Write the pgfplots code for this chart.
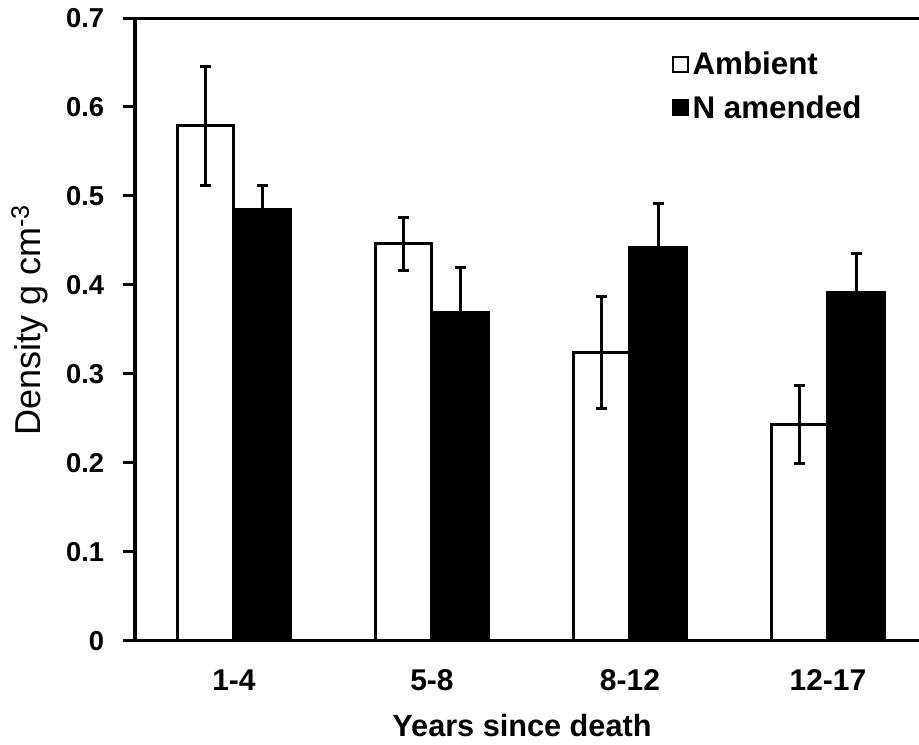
\documentclass[border=0pt]{standalone}
\usepackage{fontspec}
\setmainfont{Liberation Sans}
\usepackage{pgfplots}
\pgfplotsset{compat=1.18}
\usepackage{pgfplotstable}

\pgfplotstableread{
x y e
0 0.579 0.067
1 0.446 0.030
2 0.324 0.063
3 0.243 0.044
}\ambient
\pgfplotstableread{
x y e
0 0.485 0.027
1 0.369 0.050
2 0.442 0.049
3 0.391 0.044
}\namended

\begin{document}
\begin{tikzpicture}
\begin{axis}[
  scale only axis,
  width=588pt, height=467pt,
  xmin=-0.5, xmax=3.46,
  ymin=0, ymax=0.7,
  clip=false,
  axis x line*=bottom,
  axis y line*=left,
  axis line style={-, line width=2.25pt, line cap=rect},
  xtick={0,1,2,3},
  xticklabels={1-4,5-8,8-12,12-17},
  xtick style={draw=none},
  ytick={0,0.1,0.2,0.3,0.4,0.5,0.6,0.7},
  yticklabels={0,0.1,0.2,0.3,0.4,0.5,0.6,0.7},
  ytick style={line width=2.25pt, black},
  tick align=outside,
  major tick length=9pt,
  /pgf/number format/assume math mode=true,
  xticklabel style={font=\fontsize{22.5}{26}\selectfont\bfseries, anchor=base, yshift=-28pt, inner sep=0pt},
  yticklabel style={font=\fontsize{20.5}{24}\selectfont\bfseries, anchor=east, inner sep=0pt, xshift=-14pt},
  xlabel={\bfseries Years since death},
  xlabel style={font=\fontsize{23}{27}\selectfont, at={(axis description cs:0.4936,-0.1546)}, anchor=base, inner sep=0pt},
  ylabel={Density g cm\textsuperscript{-3}},
  ylabel style={font=\fontsize{27}{31}\selectfont, at={(axis description cs:-0.12,0.515)}, anchor=base, inner sep=0pt},
  ybar, bar width=0.286,
  legend style={at={(axis description cs:0.685,0.951)}, anchor=north west, draw=none, fill=none, inner sep=0pt,
    font=\fontsize{23.5}{27}\selectfont\bfseries, row sep=9pt,
    nodes={inner sep=2.5pt}},
  legend cell align=left,
  legend image code/.code={\draw[#1, line width=1.5pt] (0pt,-5.6pt) rectangle (11.2pt,5.6pt);},
]
\addplot[bar shift=-0.143, fill=white, draw=black, line width=2.25pt,
  error bars/.cd, y dir=both, y explicit,
  error bar style={line width=2.25pt, black},
  error mark options={rotate=90, mark size=4.1pt, line width=2.25pt, black}]
  table[x=x, y=y, y error=e] {\ambient};
\addlegendentry{Ambient}
\addplot[bar shift=0.143, fill=black, draw=black, line width=2.25pt,
  error bars/.cd, y dir=both, y explicit,
  error bar style={line width=2.25pt, black},
  error mark options={rotate=90, mark size=4.1pt, line width=2.25pt, black}]
  table[x=x, y=y, y error=e] {\namended};
\addlegendentry{N amended}
\draw[line width=2.25pt] (rel axis cs:0,1) -- (rel axis cs:1,1);
\end{axis}
\pgfresetboundingbox
\path (-101.25pt,-77.5pt) rectangle (588pt,480.5pt);
\end{tikzpicture}
\end{document}
